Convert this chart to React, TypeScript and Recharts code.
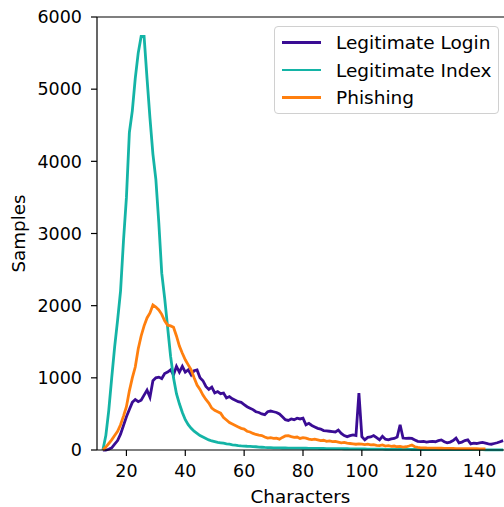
import { Line, LineChart, ReferenceLine, XAxis, YAxis } from "recharts";

// character counts 12..148
const START = 12;

const login = [
  0, 0, 10, 30, 80, 130, 220, 340, 460, 560, 660, 700, 670, 690, 760, 830, 730, 960, 1000,
  1010, 990, 1060, 1080, 1110, 1040, 1160, 1080, 1160, 1080, 1110, 1040, 1100, 1110, 1000,
  960, 880, 840, 870, 790, 810, 780, 790, 720, 740, 710, 690, 670, 660, 630, 600, 580, 560,
  530, 520, 500, 490, 530, 540, 530, 520, 500, 460, 420, 410, 430, 420, 440, 430, 440, 350,
  370, 340, 320, 300, 290, 270, 265, 260, 255, 250, 275, 230, 200, 185, 200, 210, 200, 790,
  185, 140, 175, 180, 200, 170, 140, 190, 150, 140, 155, 160, 180, 350, 165, 160, 165, 160,
  140, 120, 115, 120, 110, 115, 120, 115, 130, 140, 115, 100, 110, 130, 165, 100, 110, 130,
  140, 85, 95, 90, 100, 105, 95, 85, 80, 90, 100, 115, 130,
];

const index = [
  0, 200, 550, 1000, 1430, 1800, 2200, 2900, 3500, 4400, 4700, 5150, 5500, 5730, 5730, 5150,
  4600, 4100, 3750, 3150, 2450, 2100, 1700, 1300, 1000, 780, 640, 520, 420, 350, 300, 260,
  230, 200, 180, 160, 140, 125, 115, 105, 100, 95, 85, 80, 72, 68, 62, 58, 55, 52, 50, 48, 45,
  40, 38, 35, 33, 32, 30, 30, 29, 28, 28, 27, 26, 26, 25, 25, 24, 24, 23, 23, 22, 22, 21, 21,
  20, 20, 19, 19, 18, 18, 17, 17, 16, 16, 15, 15, 14, 14, 13, 13, 12, 12, 11, 11, 10, 10, 10,
  9, 9, 9, 8, 8, 8, 7, 7, 7, 7, 6, 6, 6, 6, 6, 5, 5, 5, 5, 5, 5, 5, 4, 4, 4, 4, 4, 4, 4, 4, 4,
  3, 3, 3, 3, 3, 3, 3,
];

const phishing = [
  0, 40, 90, 140, 200, 260, 350, 470, 600, 820, 1000, 1150, 1400, 1580, 1720, 1830, 1900,
  2010, 1980, 1940, 1880, 1790, 1730, 1720, 1700, 1580, 1440, 1340, 1250, 1180, 1110, 1000,
  900, 840, 760, 700, 650, 580, 550, 530, 510, 450, 415, 380, 360, 340, 320, 300, 290, 260,
  250, 230, 215, 205, 200, 180, 165, 170, 160, 165, 150, 175, 195, 200, 185, 175, 180, 160,
  170, 165, 150, 145, 150, 140, 130, 135, 120, 125, 115, 120, 110, 100, 105, 95, 90, 85, 80,
  85, 80, 75, 80, 70, 75, 65, 60, 70, 55, 60, 50, 55, 45, 50, 40, 45, 55, 70, 45, 35, 30, 30,
  28, 27, 25, 26, 24, 25, 23, 22, 22, 21, 20, 20, 19, 20, 18, 18, 17, 17, 16, 16, 15,
];

const xTicks = [20, 40, 60, 80, 100, 120, 140];
const yTicks = [0, 1000, 2000, 3000, 4000, 5000, 6000];

const series = [
  { key: "login", name: "Legitimate Login", color: "#3a0c94" },
  { key: "index", name: "Legitimate Index", color: "#14b4a6" },
  { key: "phishing", name: "Phishing", color: "#ff7f0e" },
];

const data = login.map((v, i) => ({
  chars: START + i,
  login: v,
  index: index[i],
  phishing: phishing[i],
}));

const FONT = "DejaVu Sans, sans-serif";
const tickStyle = { fontSize: 17.5, fill: "#000", fontFamily: FONT };

export default function App() {
  // fixed so the window gets no scrollbars; the plot is cut at the right edge like the original
  return (
    <div
      style={{
        position: "fixed",
        left: 0,
        top: 0,
        width: 504,
        height: 507,
        overflow: "hidden",
        background: "#fff",
      }}
    >
      <LineChart
        width={504}
        height={507}
        data={data}
        margin={{ top: 17, right: 0, left: 0, bottom: 0 }}
      >
        <XAxis
          type="number"
          dataKey="chars"
          domain={[10, 148.3]}
          ticks={xTicks}
          allowDataOverflow
          height={57}
          tickSize={6}
          tickMargin={9}
          tick={tickStyle}
          stroke="#000"
          strokeWidth={1.2}
          label={{
            content: ({ viewBox }: any) => (
              <text
                x={viewBox.x + viewBox.width / 2}
                y={viewBox.y + 53}
                textAnchor="middle"
                fontSize={18.3}
                fontFamily={FONT}
                fill="#000"
              >
                Characters
              </text>
            ),
          }}
        />
        <YAxis
          type="number"
          domain={[0, 6000]}
          ticks={yTicks}
          width={97}
          tickSize={6}
          tickMargin={9}
          tick={tickStyle}
          stroke="#000"
          strokeWidth={1.2}
          label={{
            content: ({ viewBox }: any) => (
              <text
                x={25}
                y={viewBox.y + viewBox.height / 2}
                transform={`rotate(-90, 25, ${viewBox.y + viewBox.height / 2})`}
                textAnchor="middle"
                fontSize={18.3}
                fontFamily={FONT}
                fill="#000"
              >
                Samples
              </text>
            ),
          }}
        />
        <ReferenceLine y={6000} stroke="#000" strokeWidth={1.2} />
        {series.map((s) => (
          <Line
            key={s.key}
            dataKey={s.key}
            name={s.name}
            stroke={s.color}
            strokeWidth={2.8}
            dot={false}
            activeDot={false}
            type="linear"
            isAnimationActive={false}
          />
        ))}
      </LineChart>
      <div
        style={{
          position: "absolute",
          left: 274,
          top: 26,
          width: 223,
          height: 86,
          border: "1px solid #d0d0d0",
          borderRadius: 4,
          background: "rgba(255,255,255,0.8)",
          fontFamily: FONT,
          fontSize: 18.5,
          color: "#000",
        }}
      >
        {series.map((s, i) => (
          <div
            key={s.key}
            style={{
              position: "absolute",
              left: 7,
              top: 3.7 + i * 27.3,
              height: 24,
              display: "flex",
              alignItems: "center",
              whiteSpace: "nowrap",
            }}
          >
            <span style={{ display: "inline-block", width: 39, height: 2.8, background: s.color }} />
            <span style={{ marginLeft: 15 }}>{s.name}</span>
          </div>
        ))}
      </div>
    </div>
  );
}
